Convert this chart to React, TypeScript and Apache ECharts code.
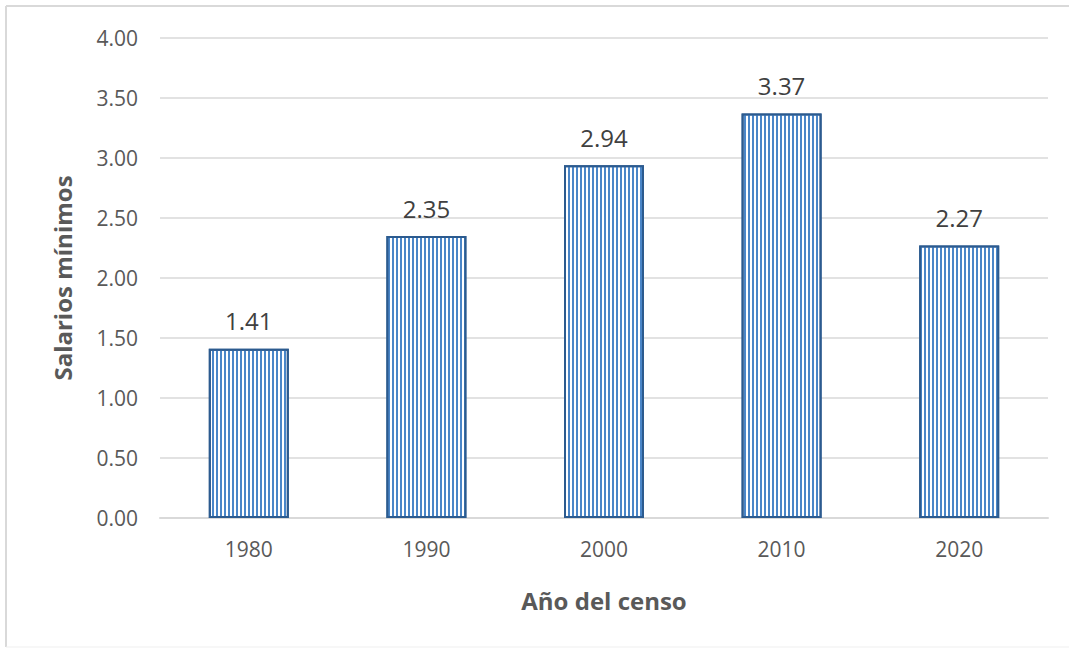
import React, { useEffect, useRef } from "react";
import * as echarts from "echarts";

const years = ["1980", "1990", "2000", "2010", "2020"];
const salarios = [1.41, 2.35, 2.94, 3.37, 2.27];
const yTicks = { min: 0, max: 4, interval: 0.5 };

const FONT = "'Open Sans', 'Noto Sans', sans-serif";
const TEXT = "#595959";
const GRID = "#d9d9d9";

export default function App() {
  const ref = useRef<HTMLDivElement>(null);

  useEffect(() => {
    if (!ref.current) return;
    const chart = echarts.init(ref.current, undefined, { renderer: "svg" });
    chart.setOption({
      animation: false,
      backgroundColor: "#ffffff",
      textStyle: { fontFamily: FONT },
      graphic: [
        { type: "line", shape: { x1: 6, y1: 6, x2: 1069, y2: 6 }, style: { stroke: GRID, lineWidth: 2 } },
        { type: "line", shape: { x1: 6, y1: 6, x2: 6, y2: 647 }, style: { stroke: GRID, lineWidth: 2 } },
        { type: "line", shape: { x1: 6, y1: 647, x2: 1069, y2: 647 }, style: { stroke: "#efefef", lineWidth: 1 } },
      ],
      grid: { left: 160, right: 21, top: 38, bottom: 131 },
      xAxis: {
        type: "category",
        data: years,
        name: "Año del censo",
        nameLocation: "middle",
        nameGap: 70,
        nameTextStyle: { color: TEXT, fontSize: 24, fontWeight: "bold", fontFamily: FONT },
        axisLine: { lineStyle: { color: GRID, width: 2 } },
        axisTick: { show: false },
        axisLabel: { color: TEXT, fontSize: 21, margin: 20, fontFamily: FONT },
      },
      yAxis: {
        type: "value",
        min: yTicks.min,
        max: yTicks.max,
        interval: yTicks.interval,
        name: "Salarios mínimos",
        nameLocation: "middle",
        nameGap: 86,
        nameTextStyle: { color: TEXT, fontSize: 24, fontWeight: "bold", fontFamily: FONT },
        axisLine: { show: false },
        axisTick: { show: false },
        splitLine: { lineStyle: { color: GRID, width: 1.5 } },
        axisLabel: {
          color: TEXT,
          fontSize: 21,
          margin: 22,
          fontFamily: FONT,
          formatter: (v: number) => v.toFixed(2),
        },
      },
      series: [
        {
          type: "bar",
          data: salarios,
          barWidth: 80,
          itemStyle: {
            color: "#ffffff",
            borderColor: "#2c5b8f",
            borderWidth: 2,
            decal: {
              symbol: "rect",
              symbolSize: 1,
              color: "#4a86c8",
              dashArrayX: [2, 1.6],
              dashArrayY: [4, 0],
              rotation: 0,
            },
          },
          label: {
            show: true,
            position: "top",
            distance: 16,
            color: "#404040",
            fontSize: 24,
            fontFamily: FONT,
            formatter: (p: any) => Number(p.value).toFixed(2),
          },
        },
      ],
    });
    return () => chart.dispose();
  }, []);

  return (
    <div
      ref={ref}
      style={{ position: "fixed", left: 0, top: 0, width: 1069, height: 649 }}
    />
  );
}
